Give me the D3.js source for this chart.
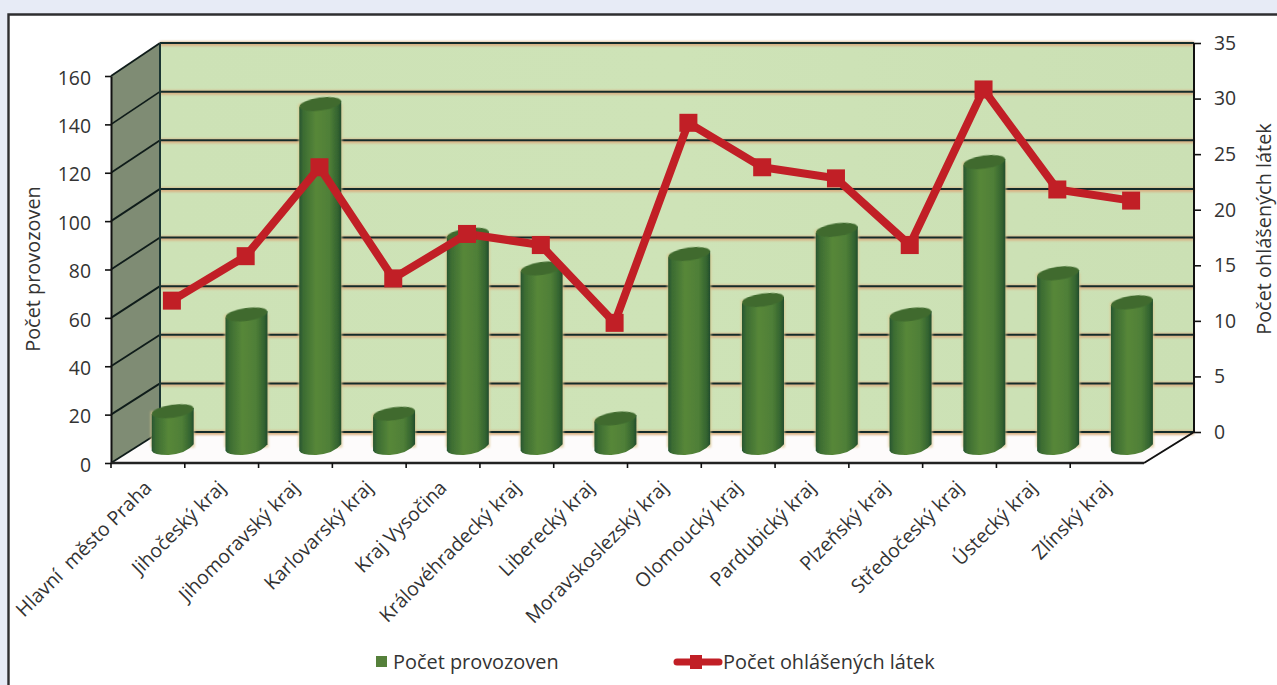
<!DOCTYPE html>
<html lang="cs"><head><meta charset="utf-8">
<script src="https://cdn.jsdelivr.net/npm/d3@7/dist/d3.min.js"></script>
<style>
html,body{margin:0;padding:0;background:#fff;overflow:hidden}
svg{display:block}
text{font-family:"Open Sans","Noto Sans",sans-serif;fill:#333;white-space:pre}
</style></head><body><svg id="c" width="1277" height="685"></svg>
<script>
const categories=["Hlavní  město Praha","Jihočeský kraj","Jihomoravský kraj","Karlovarský kraj","Kraj Vysočina","Královéhradecký kraj","Liberecký kraj","Moravskoslezský kraj","Olomoucký kraj","Pardubický kraj","Plzeňský kraj","Středočeský kraj","Ústecký kraj","Zlínský kraj"];
const provozovny=[15,55,142,14,88,74,12,80,61,90,55,118,72,60];
const latky=[12,16,24,14,18,17,10,28,24,23,17,31,22,21];
const leftTicks=[0,20,40,60,80,100,120,140,160];
const rightTicks=[0,5,10,15,20,25,30,35];
const seriesNames=["Počet provozoven","Počet ohlášených látek"];

const svg=d3.select("#c");
const front={l:111,r:1144,b:463,t:76}, back={l:160,r:1194,b:432,t:43};
const dx=back.l-front.l;
const fs=19.9, tickFs=19.4, catFs=19.5;
const xF=d3.scaleBand().domain(categories).range([front.l,front.r]);
const yF=d3.scaleLinear().domain([0,160]).range([front.b,front.t]);
const yB=d3.scaleLinear().domain([0,160]).range([back.b,back.t]);
const yR=d3.scaleLinear().domain([0,35]).range([back.b,back.t]);
const defs=svg.append("defs");
const g1=defs.append("linearGradient").attr("id","cyl");
[[0,"#27552f"],[.1,"#3c6c32"],[.4,"#578739"],[.72,"#4f7f37"],[.92,"#33632f"],[1,"#214c2e"]].forEach(s=>g1.append("stop").attr("offset",s[0]).attr("stop-color",s[1]));
const g2=defs.append("linearGradient").attr("id","wall");
[[0,"#cde2b6"],[.5,"#cee3b7"],[1,"#cbe0b4"]].forEach(s=>g2.append("stop").attr("offset",s[0]).attr("stop-color",s[1]));
defs.append("filter").attr("id","soft").attr("x","-20%").attr("y","-20%").attr("width","140%").attr("height","140%").append("feGaussianBlur").attr("stdDeviation",.5);
defs.append("filter").attr("id","halo").attr("filterUnits","userSpaceOnUse").attr("x",0).attr("y",0).attr("width",1277).attr("height",685).append("feGaussianBlur").attr("stdDeviation",.8);

// page and frame
svg.append("rect").attr("width",1277).attr("height",14).attr("fill","#e7ebf6");
svg.append("rect").attr("y",14).attr("width",8).attr("height",671).attr("fill","#e7ebf6");
svg.append("path").attr("d","M8.5 685V14.5H1277").attr("fill","none").attr("stroke","#2e2e30").attr("stroke-width",2.4);

// 3D box
svg.append("path").attr("d",`M${front.l} ${front.b}L${back.l} ${back.b}H${back.r}L${front.r} ${front.b}Z`).attr("fill","#fdfbfb");
svg.append("rect").attr("x",back.l).attr("y",back.t).attr("width",back.r-back.l).attr("height",back.b-back.t).attr("fill","url(#wall)");
svg.append("path").attr("d",`M${front.l} ${front.t}L${back.l} ${back.t}V${back.b}L${front.l} ${front.b}Z`).attr("fill","#7f8c74");

// grid
const gridG=svg.append("g");
gridG.selectAll("line.h").data(leftTicks).join("line").attr("class","h").attr("x1",back.l).attr("x2",back.r)
 .attr("y1",d=>yB(d)+.8).attr("y2",d=>yB(d)+.8).attr("stroke","#d9b184").attr("stroke-width",4.4).attr("filter","url(#halo)");
gridG.selectAll("line.g").data(leftTicks).join("line").attr("class","g").attr("x1",back.l).attr("x2",back.r)
 .attr("y1",d=>yB(d)).attr("y2",d=>yB(d)).attr("stroke","#142b2a").attr("stroke-width",2);
gridG.selectAll("line.s").data(leftTicks).join("line").attr("class","s").attr("x1",front.l).attr("x2",back.l)
 .attr("y1",d=>yF(d)).attr("y2",d=>yB(d)).attr("stroke","#0f1c1a").attr("stroke-width",1.8);
gridG.append("path").attr("d",`M${back.l} ${back.t}V${back.b}`).attr("stroke","#1a3532").attr("stroke-width",2);
gridG.append("path").attr("d",`M${back.r} ${back.t}V${back.b}L${front.r} ${front.b}`).attr("stroke","#111").attr("stroke-width",2).attr("fill","none");

// cylinders
const rx=21, ry=6.5, tilt=3.2;
const barX=d=>xF(d)+xF.bandwidth()/2+dx/2+.3;
const baseY=yF(0)-(front.b-back.b)/2;
const barTop=v=>yF(v)-(front.b-back.b)/2;
const bars=svg.append("g").selectAll("g").data(categories.map((c,i)=>({c,v:provozovny[i]}))).join("g");
bars.append("path").attr("filter","url(#halo)").attr("fill","#dcc58f").attr("opacity",.8)
 .attr("d",d=>{const x=barX(d.c),t=barTop(d.v);return `M${x-rx-1} ${t}H${x+rx+1}V${baseY}H${x-rx-1}Z`;});
bars.append("path").attr("fill","url(#cyl)").attr("filter","url(#soft)")
 .attr("d",d=>{const x=barX(d.c),t=barTop(d.v);
  return `M${x-rx} ${t+tilt}L${x-rx} ${baseY+tilt}Q${x-rx+2} ${baseY+tilt+4.5} ${x-4} ${baseY+7.5}Q${x+14} ${baseY+6} ${x+rx} ${baseY-tilt}L${x+rx} ${t-tilt}Z`;});
bars.append("ellipse").attr("fill","#3f6a2e").attr("filter","url(#soft)")
 .attr("cx",d=>barX(d.c)).attr("cy",d=>barTop(d.v)).attr("rx",rx).attr("ry",ry)
 .attr("transform",d=>`rotate(-8 ${barX(d.c)} ${barTop(d.v)})`);

// line series
const lineShiftX=dx/2-.5, lineShiftY=2;
const lx=c=>xF(c)+xF.bandwidth()/2+lineShiftX, ly=v=>yR(v)+lineShiftY;
const pts=categories.map((c,i)=>({c,v:latky[i]}));
svg.append("path").datum(pts).attr("fill","none").attr("stroke","#c11f26").attr("stroke-width",8)
 .attr("stroke-linejoin","miter").attr("d",d3.line().x(d=>lx(d.c)).y(d=>ly(d.v)));
svg.append("g").selectAll("rect").data(pts).join("rect").attr("fill","#c11f26")
 .attr("x",d=>lx(d.c)-9).attr("y",d=>ly(d.v)-9).attr("width",18).attr("height",18);

// axes
function style(g){g.select(".domain").attr("stroke","#111").attr("stroke-width",2);
 g.selectAll(".tick line").attr("stroke","#111").attr("stroke-width",1.6);
 g.selectAll("text").attr("font-size",tickFs).attr("fill","#333");}
svg.append("g").attr("transform",`translate(${front.l},0)`)
 .call(d3.axisLeft(yF).tickValues(leftTicks).tickSize(6).tickPadding(14).tickSizeOuter(0)).call(style)
 .call(g=>g.selectAll("text").attr("dy","0.42em"));
svg.append("g").attr("transform",`translate(${back.r},0)`)
 .call(d3.axisRight(yR).tickValues(rightTicks).tickSize(7).tickPadding(13).tickSizeOuter(0)).call(style)
 .call(g=>g.selectAll("text").attr("dy","0.33em"))
 .call(g=>g.select(".domain").remove());
const xEdges=categories.map(c=>xF(c)).concat([front.r]);
svg.append("path").attr("d",`M${front.l} ${front.b}H${front.r}`).attr("stroke","#222").attr("stroke-width",2.4);
svg.append("g").selectAll("line").data(xEdges).join("line").attr("x1",d=>d).attr("x2",d=>d)
 .attr("y1",front.b).attr("y2",d=>d===front.r?front.b:front.b+5).attr("stroke","#111").attr("stroke-width",1.6);
svg.append("g").selectAll("text").data(categories).join("text").text(d=>d)
 .attr("text-anchor","end").attr("font-size",catFs)
 .attr("transform",d=>`translate(${xF(d)+xF.bandwidth()/2+5},${489}) rotate(-45)`);

// axis titles
svg.append("text").text(seriesNames[0]).attr("font-size",fs).attr("text-anchor","middle")
 .attr("transform","translate(40,269) rotate(-90)");
svg.append("text").text(seriesNames[1]).attr("font-size",fs).attr("text-anchor","middle")
 .attr("transform","translate(1271,229) rotate(-90)");

// legend
svg.append("rect").attr("x",376).attr("y",656).attr("width",11).attr("height",11).attr("fill","#55803a");
svg.append("text").text(seriesNames[0]).attr("x",393).attr("y",669).attr("font-size",fs);
svg.append("line").attr("x1",677).attr("x2",719).attr("y1",662).attr("y2",662).attr("stroke","#c11f26").attr("stroke-width",7).attr("stroke-linecap","round");
svg.append("rect").attr("x",690).attr("y",655).attr("width",12).attr("height",14).attr("fill","#c11f26");
svg.append("text").text(seriesNames[1]).attr("x",723).attr("y",669).attr("font-size",fs);
</script></body></html>
